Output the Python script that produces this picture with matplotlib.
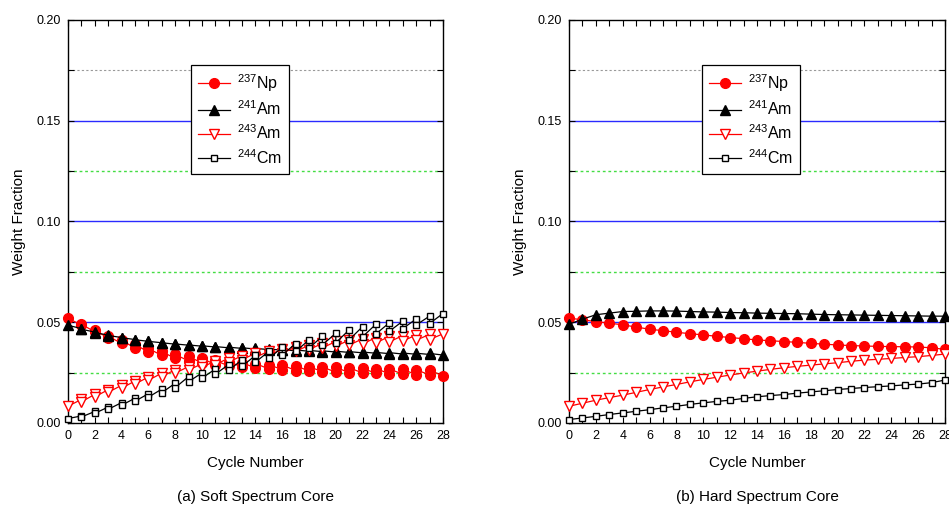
import numpy as np
import matplotlib
matplotlib.use("Agg")
import matplotlib.pyplot as plt
from matplotlib.ticker import MultipleLocator

plt.rcParams['font.family'] = ['Liberation Sans', 'DejaVu Sans']
plt.rcParams['mathtext.fontset'] = 'custom'
plt.rcParams['mathtext.rm'] = 'Liberation Sans'
plt.rcParams['mathtext.it'] = 'Liberation Sans'

cycles = np.arange(0, 29)

# soft spectrum core: begin-of-cycle (x=0..27) and end-of-cycle (x=1..28) values
soft_np_boc = [0.052, 0.049, 0.046, 0.043, 0.041, 0.039, 0.037, 0.0355, 0.034, 0.033,
               0.032, 0.031, 0.0305, 0.030, 0.0295, 0.029, 0.0288, 0.0285, 0.028, 0.0278,
               0.0276, 0.0274, 0.0272, 0.027, 0.0268, 0.0266, 0.0265, 0.0264]
soft_np_eoc = [0.0485, 0.0452, 0.0422, 0.0395, 0.0372, 0.0352, 0.0335, 0.032, 0.0308, 0.0298,
               0.029, 0.0283, 0.0277, 0.0272, 0.0268, 0.0264, 0.026, 0.0257, 0.0254, 0.0252,
               0.025, 0.0248, 0.0246, 0.0244, 0.0242, 0.024, 0.0238, 0.0233]
soft_am241_boc = [0.0485, 0.0465, 0.0448, 0.0434, 0.0423, 0.0413, 0.0405, 0.0398, 0.0392, 0.0387,
                  0.0383, 0.0379, 0.0376, 0.0373, 0.037, 0.0367, 0.0364, 0.0362, 0.036, 0.0358,
                  0.0356, 0.0354, 0.0352, 0.035, 0.0349, 0.0347, 0.0346, 0.0345]
soft_am241_eoc = [0.0468, 0.0451, 0.0436, 0.0424, 0.0414, 0.0405, 0.0398, 0.0391, 0.0386, 0.0381,
                  0.0377, 0.0373, 0.037, 0.0367, 0.0364, 0.0361, 0.0358, 0.0356, 0.0354, 0.0352,
                  0.035, 0.0348, 0.0346, 0.0344, 0.0342, 0.0341, 0.034, 0.0337]
soft_am243_boc = [0.0083, 0.0105, 0.013, 0.0152, 0.0173, 0.0193, 0.0212, 0.023, 0.0247, 0.0262,
                  0.0276, 0.0289, 0.0302, 0.0314, 0.0325, 0.0336, 0.0346, 0.0355, 0.0364, 0.0372,
                  0.038, 0.0386, 0.0392, 0.0397, 0.0402, 0.0406, 0.041, 0.0414]
soft_am243_eoc = [0.0117, 0.0142, 0.0165, 0.0187, 0.0208, 0.0228, 0.0247, 0.0264, 0.028, 0.0294,
                  0.0308, 0.0322, 0.0334, 0.0346, 0.0357, 0.0367, 0.0377, 0.0386, 0.0395, 0.0405,
                  0.0412, 0.0418, 0.0424, 0.043, 0.0434, 0.0437, 0.044, 0.0442]
soft_cm244_boc = [0.0022, 0.003, 0.0048, 0.0068, 0.0088, 0.0108, 0.0128, 0.015, 0.0175, 0.0205,
                  0.0222, 0.0242, 0.0262, 0.0282, 0.0302, 0.032, 0.0338, 0.0355, 0.0372, 0.0388,
                  0.0398, 0.0413, 0.0428, 0.0442, 0.0455, 0.0468, 0.0486, 0.0493]
soft_cm244_eoc = [0.0035, 0.0057, 0.0079, 0.0101, 0.0123, 0.0145, 0.0168, 0.0197, 0.023, 0.0248,
                  0.0268, 0.029, 0.0313, 0.0335, 0.0355, 0.0375, 0.0394, 0.0412, 0.043, 0.0445,
                  0.0462, 0.0478, 0.049, 0.0497, 0.0505, 0.0516, 0.053, 0.0543]

# hard spectrum core
hard_np = [0.052, 0.0512, 0.0503, 0.0495, 0.0487, 0.0476, 0.0465, 0.0458, 0.045, 0.0443,
           0.0437, 0.043, 0.0424, 0.0418, 0.0412, 0.0408, 0.0404, 0.04, 0.0395, 0.0391,
           0.0387, 0.0384, 0.0382, 0.038, 0.0379, 0.0378, 0.0377, 0.0373, 0.0365]
hard_am241 = [0.049, 0.0515, 0.0537, 0.0545, 0.0553, 0.0554, 0.0556, 0.0556, 0.0555, 0.0553,
              0.0551, 0.055, 0.0548, 0.0547, 0.0545, 0.0544, 0.0543, 0.0542, 0.054, 0.0538,
              0.0537, 0.0536, 0.0535, 0.0534, 0.0533, 0.0532, 0.0531, 0.053, 0.053]
hard_am243 = [0.0083, 0.0098, 0.0113, 0.0126, 0.0138, 0.0152, 0.0166, 0.0179, 0.0191, 0.0204,
              0.0216, 0.0227, 0.0238, 0.0248, 0.0257, 0.0266, 0.0274, 0.0281, 0.0287, 0.0293,
              0.0299, 0.0306, 0.0312, 0.0316, 0.032, 0.0325, 0.0329, 0.0335, 0.0342]
hard_cm244 = [0.0017, 0.0025, 0.0033, 0.0042, 0.005, 0.0058, 0.0066, 0.0075, 0.0083, 0.0092,
              0.01, 0.0107, 0.0113, 0.0122, 0.013, 0.0136, 0.0141, 0.0148, 0.0154, 0.016,
              0.0166, 0.0171, 0.0176, 0.018, 0.0184, 0.0189, 0.0193, 0.02, 0.0213]

labels = [r'$^{237}$Np', r'$^{241}$Am', r'$^{243}$Am', r'$^{244}$Cm']
styles = [dict(color='red', marker='o', mfc='red', mec='red', ms=7),
          dict(color='black', marker='^', mfc='black', mec='black', ms=7),
          dict(color='red', marker='v', mfc='white', mec='red', ms=7),
          dict(color='black', marker='s', mfc='white', mec='black', ms=5)]


def sawtooth(boc, eoc):
    # each cycle runs from (k, boc[k]) to (k+1, eoc[k])
    x = np.repeat(cycles, 2)[1:-1]
    y = np.empty(len(x))
    y[0::2] = boc
    y[1::2] = eoc
    return x, y


fig = plt.figure(figsize=(9.49, 5.09), dpi=100)
ax1 = fig.add_axes([0.0717, 0.169, 0.395, 0.792])
ax2 = fig.add_axes([0.5996, 0.169, 0.3962, 0.792])

soft = [sawtooth(soft_np_boc, soft_np_eoc), sawtooth(soft_am241_boc, soft_am241_eoc),
        sawtooth(soft_am243_boc, soft_am243_eoc), sawtooth(soft_cm244_boc, soft_cm244_eoc)]
hard = [(cycles, hard_np), (cycles, hard_am241), (cycles, hard_am243), (cycles, hard_cm244)]

for ax, series, legx, title in [(ax1, soft, 0.328, '(a) Soft Spectrum Core'),
                                (ax2, hard, 0.354, '(b) Hard Spectrum Core')]:
    for yv in [0.05, 0.10, 0.15]:
        ax.axhline(yv, color='#2a2aff', lw=1.0, zorder=1)
    for yv in [0.025, 0.075, 0.125]:
        ax.axhline(yv, color='#44dd44', lw=1.0, ls=(0, (2, 2)), zorder=1)
    ax.axhline(0.175, color='#999999', lw=0.8, ls=(0, (2, 2)), zorder=1)
    for (x, y), lab, st in zip(series, labels, styles):
        ax.plot(x, y, lw=0.9, label=lab, clip_on=False, zorder=3, **st)
    ax.set_xlim(0, 28)
    ax.set_ylim(0, 0.20)
    ax.xaxis.set_major_locator(MultipleLocator(2))
    ax.xaxis.set_minor_locator(MultipleLocator(1))
    ax.yaxis.set_major_locator(MultipleLocator(0.05))
    ax.yaxis.set_minor_locator(MultipleLocator(0.025))
    ax.yaxis.set_major_formatter(matplotlib.ticker.FormatStrFormatter('%.2f'))
    ax.tick_params(which='both', direction='in', top=True, right=True, length=4,
                   width=0.8, labelsize=9, pad=5)
    for sp in ax.spines.values():
        sp.set_linewidth(1.0)
    ax.set_xlabel('Cycle Number', fontsize=11, labelpad=10)
    ax.set_ylabel('Weight Fraction', fontsize=11, labelpad=8)
    leg = ax.legend(loc='upper left', bbox_to_anchor=(legx, 0.888), fontsize=11.5,
                    frameon=True, fancybox=False, edgecolor='black', framealpha=1,
                    handlelength=2.0, labelspacing=0.35, borderpad=0.45,
                    handletextpad=0.4, borderaxespad=0)
    leg.get_frame().set_linewidth(0.9)
    bb = ax.get_position()
    fig.text((bb.x0 + bb.x1) / 2, 0.023, title, ha='center', va='center', fontsize=11)

fig.savefig('out.png', dpi=100)
